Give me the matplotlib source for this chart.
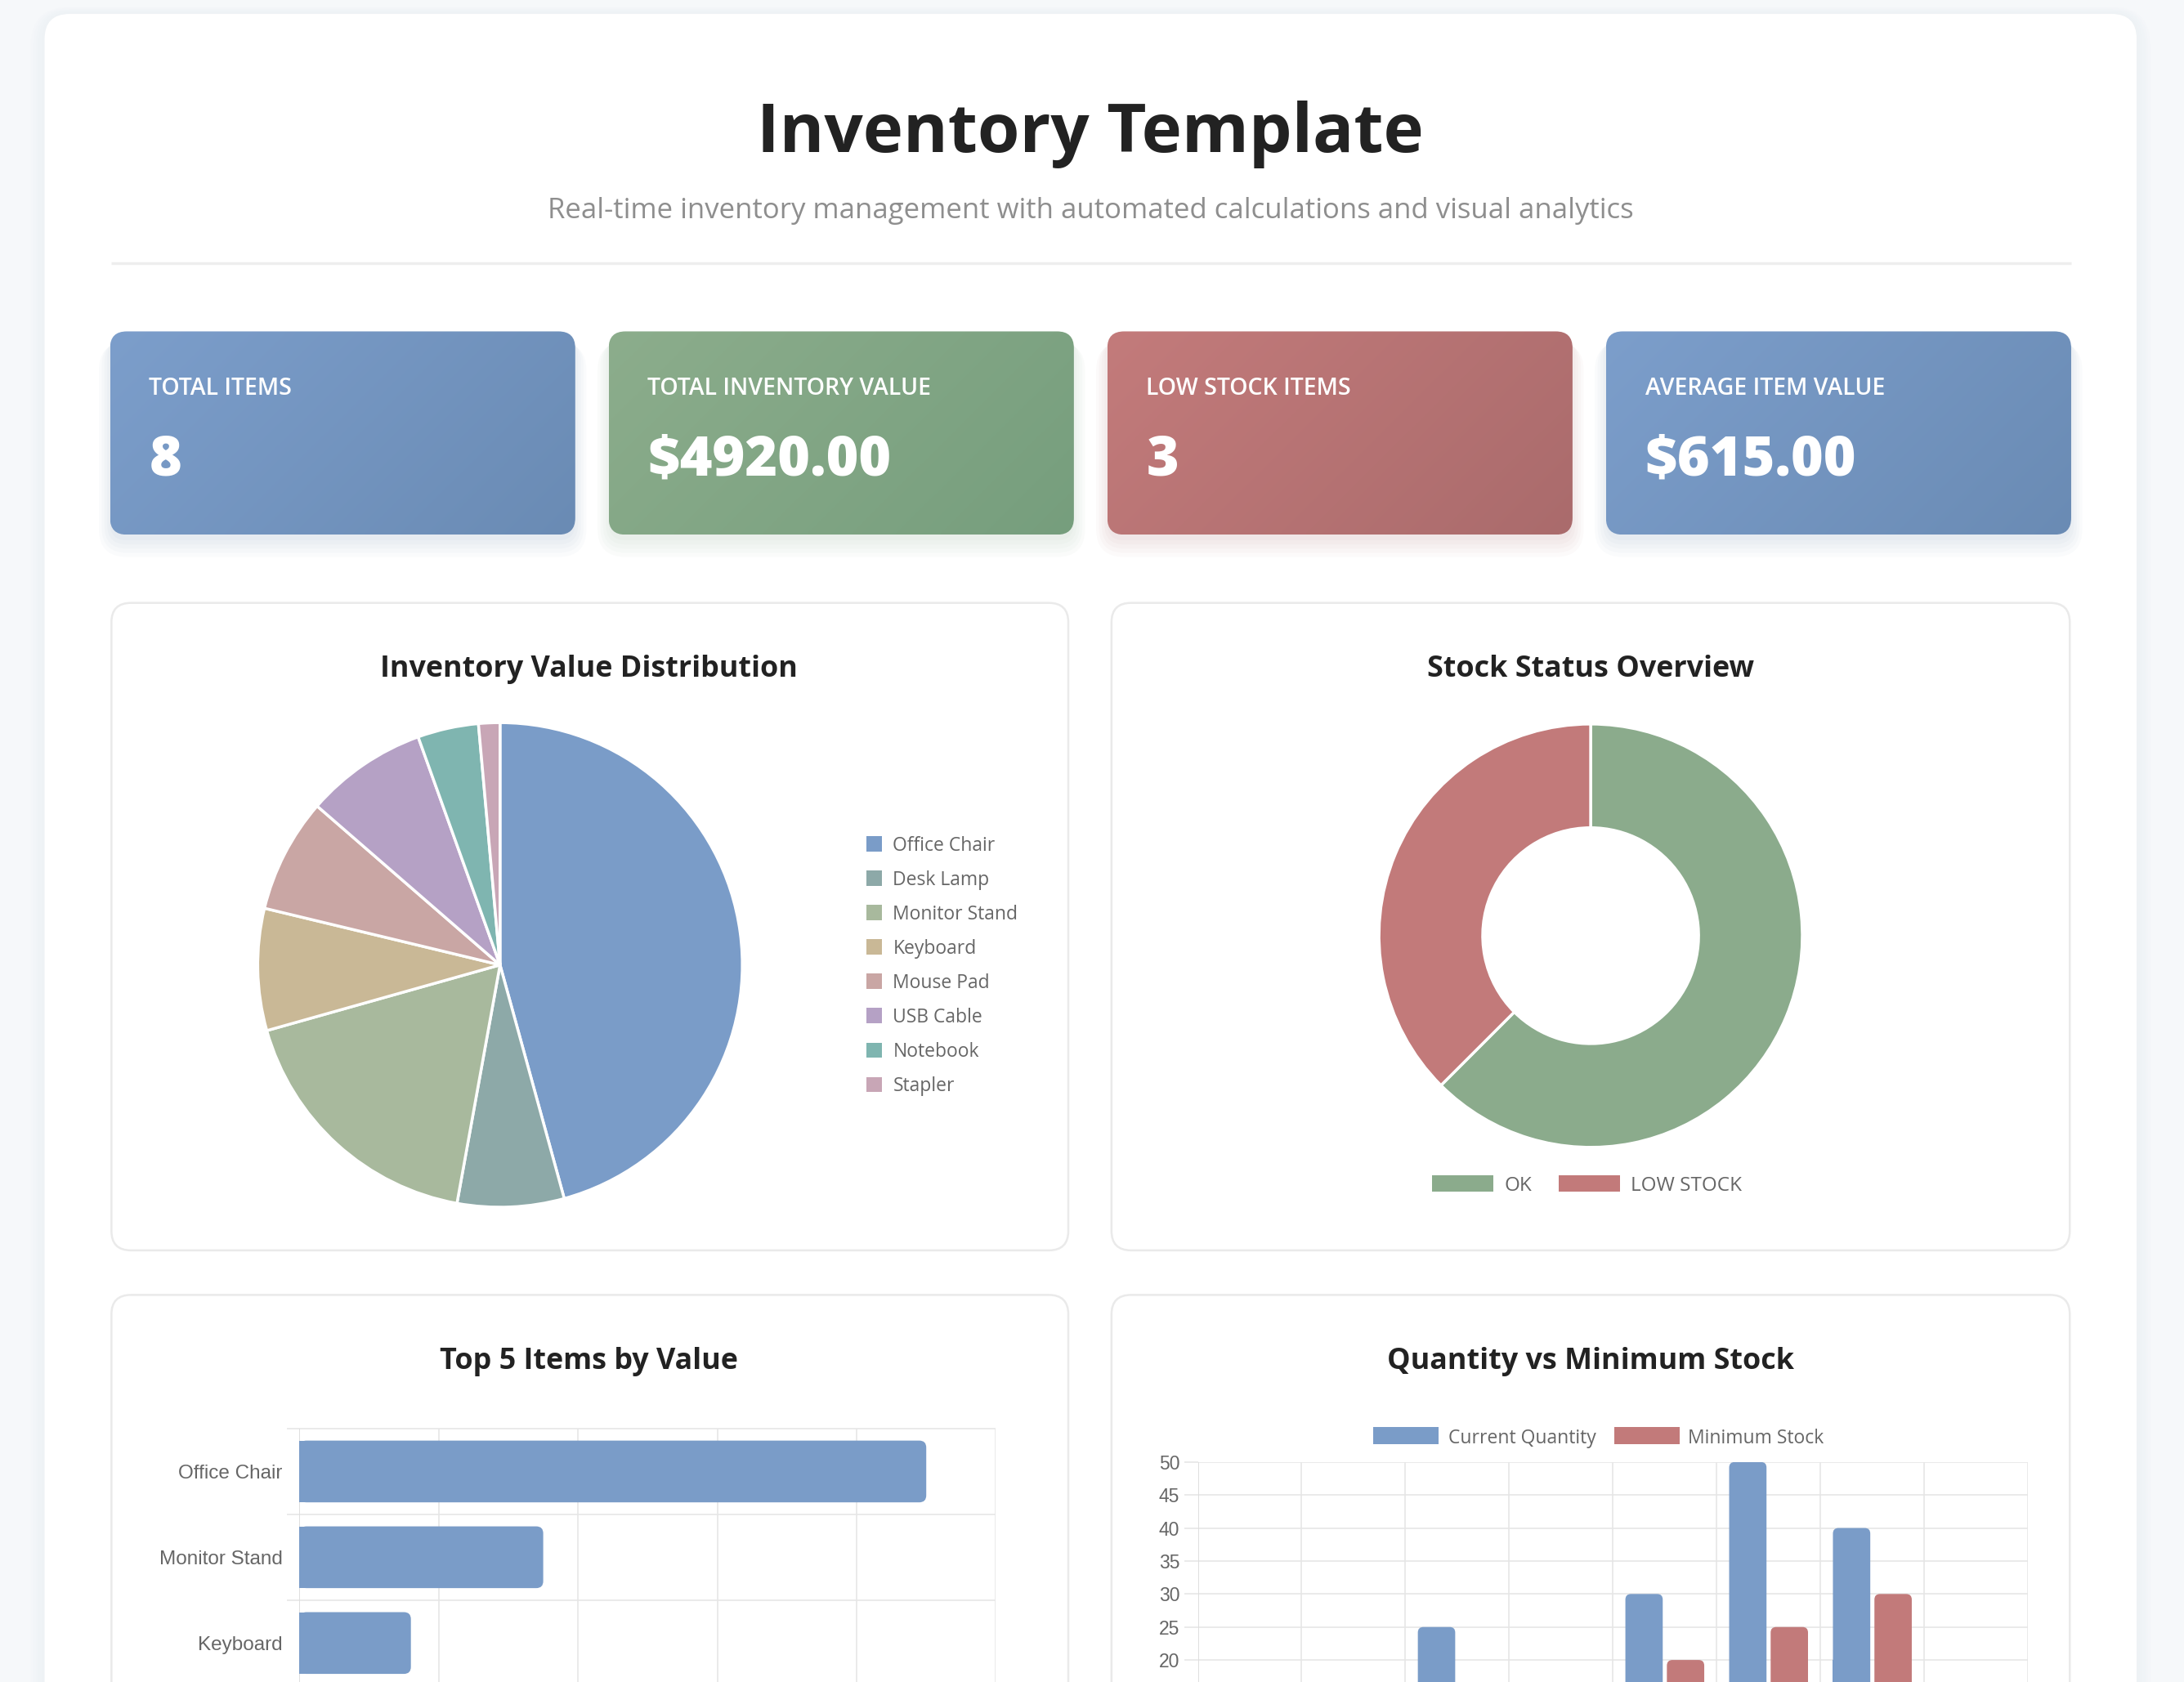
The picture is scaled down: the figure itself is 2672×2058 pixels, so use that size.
import matplotlib.pyplot as plt
import numpy as np
from matplotlib.patches import FancyBboxPatch, Rectangle
from matplotlib.colors import to_rgb

# ---- data ----
items = ['Office Chair', 'Desk Lamp', 'Monitor Stand', 'Keyboard',
         'Mouse Pad', 'USB Cable', 'Notebook', 'Stapler']
item_values = [2250, 350, 875, 400, 375, 400, 200, 70]
quantities = [15, 10, 25, 8, 30, 50, 40, 7]
min_stock = [5, 12, 10, 10, 20, 25, 30, 10]
item_colors = ['#7a9cc8', '#8da9a8', '#a8b99d', '#c9b896',
               '#c9a6a4', '#b5a1c5', '#7fb5b0', '#c8a6b6']

status_labels = ['OK', 'LOW STOCK']
status_colors = ['#8bab8c', '#c27a7a']
n_low = sum(q < m for q, m in zip(quantities, min_stock))
status_counts = [len(items) - n_low, n_low]

kpi_labels = ['TOTAL ITEMS', 'TOTAL INVENTORY VALUE', 'LOW STOCK ITEMS', 'AVERAGE ITEM VALUE']
kpi_values = [str(len(items)), f'${sum(item_values):.2f}', str(n_low),
              f'${sum(item_values) / len(items):.2f}']
kpi_colors = [('#7c9ecb', '#6a8bb4'), ('#8cad8c', '#769e7d'),
              ('#c37b7b', '#aa6b6c'), ('#7c9ecb', '#6a8bb4')]

order = sorted(range(len(items)), key=lambda i: -item_values[i])[:5]
top_names = [items[i] for i in order]
top_values = [item_values[i] for i in order]

series_labels = ['Current Quantity', 'Minimum Stock']
bar_blue = '#7a9cc8'
bar_red = '#c27a7a'

SANS = ['Open Sans', 'DejaVu Sans']
ARIAL = ['Liberation Sans', 'DejaVu Sans']
GRID = '#e6e6e6'
TXT = '#666666'

# page is laid out in 1568 x 1208 screen units
W, H = 1568, 1208
fig = plt.figure(figsize=(26.72, 20.58), dpi=100)
fig.patch.set_facecolor('#f6f8fa')
bg = fig.add_axes([0, 0, 1, 1])
bg.set_xlim(0, W)
bg.set_ylim(H, 0)
bg.axis('off')


def rect(x0, y0, x1, y1):
    return [x0 / W, 1 - y1 / H, (x1 - x0) / W, (y1 - y0) / H]


def rbox(x, y, w, h, r, **kw):
    p = FancyBboxPatch((x, y), w, h, boxstyle=f'round,pad=0,rounding_size={r}', **kw)
    bg.add_patch(p)
    return p


# main card with soft shadow
for k in range(6):
    rbox(32 - k * 2, 10 - k, 1502 + k * 4, 1300, 18 + k * 2, fc='#dde3ea', ec='none', alpha=0.05, zorder=0)
rbox(32, 10, 1502, 1300, 18, fc='white', ec='none', zorder=1)

# header
bg.text(783, 109, 'Inventory Template', ha='center', va='baseline', fontsize=60,
        fontweight='bold', color='#222222', family=SANS, zorder=3)
bg.text(783, 157, 'Real-time inventory management with automated calculations and visual analytics',
        ha='center', va='baseline', fontsize=25, color='#8e8e8e', family=SANS, zorder=3)
bg.plot([80, 1487], [189, 189], color='#eeeeee', lw=2.5, zorder=2, solid_capstyle='butt')

# KPI cards
card_x = [79, 437, 795, 1153]
cw, ch = 334, 146
for x0, lab, val, (c0, c1) in zip(card_x, kpi_labels, kpi_values, kpi_colors):
    for k in range(5):
        rbox(x0 - k * 2, 238 + 4 + k, cw + k * 4, ch + k * 2, 12 + k * 2,
             fc=c1, ec='none', alpha=0.03, zorder=1.5)
    patch = rbox(x0, 238, cw, ch, 12, fc='none', ec='none', zorder=2)
    gx, gy = np.meshgrid(np.linspace(0, 1, 200), np.linspace(0, 1, 80))
    t = (gx * cw + gy * ch) / (cw + ch)
    a, b = np.array(to_rgb(c0)), np.array(to_rgb(c1))
    img = a + (b - a) * t[..., None]
    im = bg.imshow(img, extent=(x0, x0 + cw, 238 + ch, 238), origin='upper',
                   aspect='auto', zorder=2, interpolation='bilinear')
    im.set_clip_path(patch)
    bg.text(x0 + 28, 283.5, lab, ha='left', va='baseline', fontsize=20.5, fontweight='semibold',
            color='white', family=SANS, zorder=3)
    bg.text(x0 + 28, 341.5, val, ha='left', va='baseline', fontsize=49, fontweight='heavy',
            color='white', family=SANS, zorder=3)
bg.set_xlim(0, W)
bg.set_ylim(H, 0)

# chart cards
for (x0, y0, w, h) in [(80, 433, 687, 465), (798, 433, 688, 465),
                       (80, 930, 687, 420), (798, 930, 688, 420)]:
    rbox(x0, y0, w, h, 14, fc='white', ec='#eaeaea', lw=1.8, zorder=2)

titles = [(423, 486, 'Inventory Value Distribution'), (1142, 486, 'Stock Status Overview'),
          (423, 983, 'Top 5 Items by Value'), (1142, 983, 'Quantity vs Minimum Stock')]
for x, y, s in titles:
    bg.text(x, y, s, ha='center', va='baseline', fontsize=25.8, fontweight='bold',
            color='#222222', family=SANS, zorder=3)

# ---- pie ----
ax1 = fig.add_axes(rect(359 - 174, 693 - 174, 359 + 174, 693 + 174))
ax1.pie(item_values, colors=item_colors, startangle=90, counterclock=False, radius=1,
        wedgeprops=dict(edgecolor='white', linewidth=2.5))
ax1.set_xlim(-1, 1)
ax1.set_ylim(-1, 1)
ax1.axis('off')

for i, (name, col) in enumerate(zip(items, item_colors)):
    yc = 606 + i * 24.7
    bg.add_patch(Rectangle((622, yc - 5.5), 11, 11, fc=col, ec='none', zorder=3))
    bg.text(641, yc + 5, name, ha='left', va='baseline', fontsize=16.5, color=TXT,
            family=SANS, zorder=3)

# ---- donut ----
ax2 = fig.add_axes(rect(1142 - 152, 672 - 152, 1142 + 152, 672 + 152))
ax2.pie(status_counts, colors=status_colors, startangle=90, counterclock=False, radius=1,
        wedgeprops=dict(width=0.49, edgecolor='white', linewidth=2.5))
ax2.set_xlim(-1, 1)
ax2.set_ylim(-1, 1)
ax2.axis('off')

for bx, tx, lab, col in [(1028, 1080, status_labels[0], status_colors[0]),
                         (1119, 1171, status_labels[1], status_colors[1])]:
    bg.add_patch(Rectangle((bx, 844), 44, 12, fc=col, ec='none', zorder=3))
    bg.text(tx, 855.5, lab, ha='left', va='baseline', fontsize=17.5, color=TXT,
            family=SANS, zorder=3)


def round_bars(ax, bars, horizontal, rx, aspect):
    for b in bars:
        b.set_visible(False)
        x, y, w, h = b.get_x(), b.get_y(), b.get_width(), b.get_height()
        fc = b.get_facecolor()
        ax.add_patch(FancyBboxPatch((x, y), w, h, boxstyle=f'round,pad=0,rounding_size={rx}',
                                    mutation_aspect=aspect, fc=fc, ec='none', zorder=3))
        if horizontal:
            ax.add_patch(Rectangle((x, y), w / 2, h, fc=fc, ec='none', zorder=3))
        else:
            ax.add_patch(Rectangle((x, y), w, h / 2, fc=fc, ec='none', zorder=3))


# ---- top 5 horizontal bars (lower rows run past the page edge) ----
ax3 = fig.add_axes(rect(215, 1026, 715, 1334))
ypos = np.arange(len(top_names))
bars = ax3.barh(ypos, top_values, height=0.72, color=bar_blue)
ax3.set_xlim(0, 2500)
ax3.set_ylim(len(top_names) - 0.5, -0.5)
round_bars(ax3, bars, True, 25, (5 / 308) / 5)
ax3.set_xticks(np.arange(0, 2501, 500))
ax3.set_xticklabels([])
ax3.set_yticks(ypos[:3])
ax3.set_yticklabels(top_names[:3], fontsize=17.5, color=TXT, family=ARIAL)
ax3.tick_params(axis='y', length=0, pad=15)
ax3.tick_params(axis='x', length=0)
ax3.grid(axis='x', color=GRID, lw=1.2)
ax3.hlines(np.arange(-0.5, len(top_names)), -45, 2500, color=GRID, lw=1.2, clip_on=False, zorder=1)
ax3.set_axisbelow(True)
for s in ax3.spines.values():
    s.set_visible(False)
ax3.axvline(0, color='#dddddd', lw=1.2, zorder=2)
ax3.patch.set_alpha(0)

# ---- quantity vs minimum stock ----
ax4 = fig.add_axes(rect(860, 1050, 1456, 1287))
x = np.arange(len(items))
b1 = ax4.bar(x - 0.2, quantities, width=0.36, color=bar_blue)
b2 = ax4.bar(x + 0.2, min_stock, width=0.36, color=bar_red)
ax4.set_xlim(-0.5, len(items) - 0.5)
ax4.set_ylim(0, 50)
round_bars(ax4, list(b1) + list(b2), False, 4 * 8 / 596, (50 / 237) / (8 / 596))
yt = np.arange(0, 51, 5)
ax4.set_yticks(yt)
ax4.set_yticklabels([str(v) if v >= 20 else '' for v in yt], fontsize=16.5, color=TXT, family=ARIAL)
ax4.tick_params(axis='y', length=12, width=1.2, color=GRID, pad=4)
ax4.set_xticks(x)
ax4.set_xticklabels([])
ax4.tick_params(axis='x', length=0)
ax4.grid(axis='y', color=GRID, lw=1.2)
ax4.vlines(np.arange(-0.5, len(items)), 0, 50, color=GRID, lw=1.2, zorder=1)
ax4.set_axisbelow(True)
for s in ax4.spines.values():
    s.set_visible(False)
ax4.axvline(-0.5, color='#dddddd', lw=1.2, zorder=2)
ax4.patch.set_alpha(0)

for bx, tx, lab, col in [(986, 1040, series_labels[0], bar_blue),
                         (1159, 1212, series_labels[1], bar_red)]:
    bg.add_patch(Rectangle((bx, 1025), 47, 12, fc=col, ec='none', zorder=3))
    bg.text(tx, 1036.5, lab, ha='left', va='baseline', fontsize=16.5, color=TXT,
            family=SANS, zorder=3)

fig.savefig('out.png', dpi=100, facecolor=fig.get_facecolor())
